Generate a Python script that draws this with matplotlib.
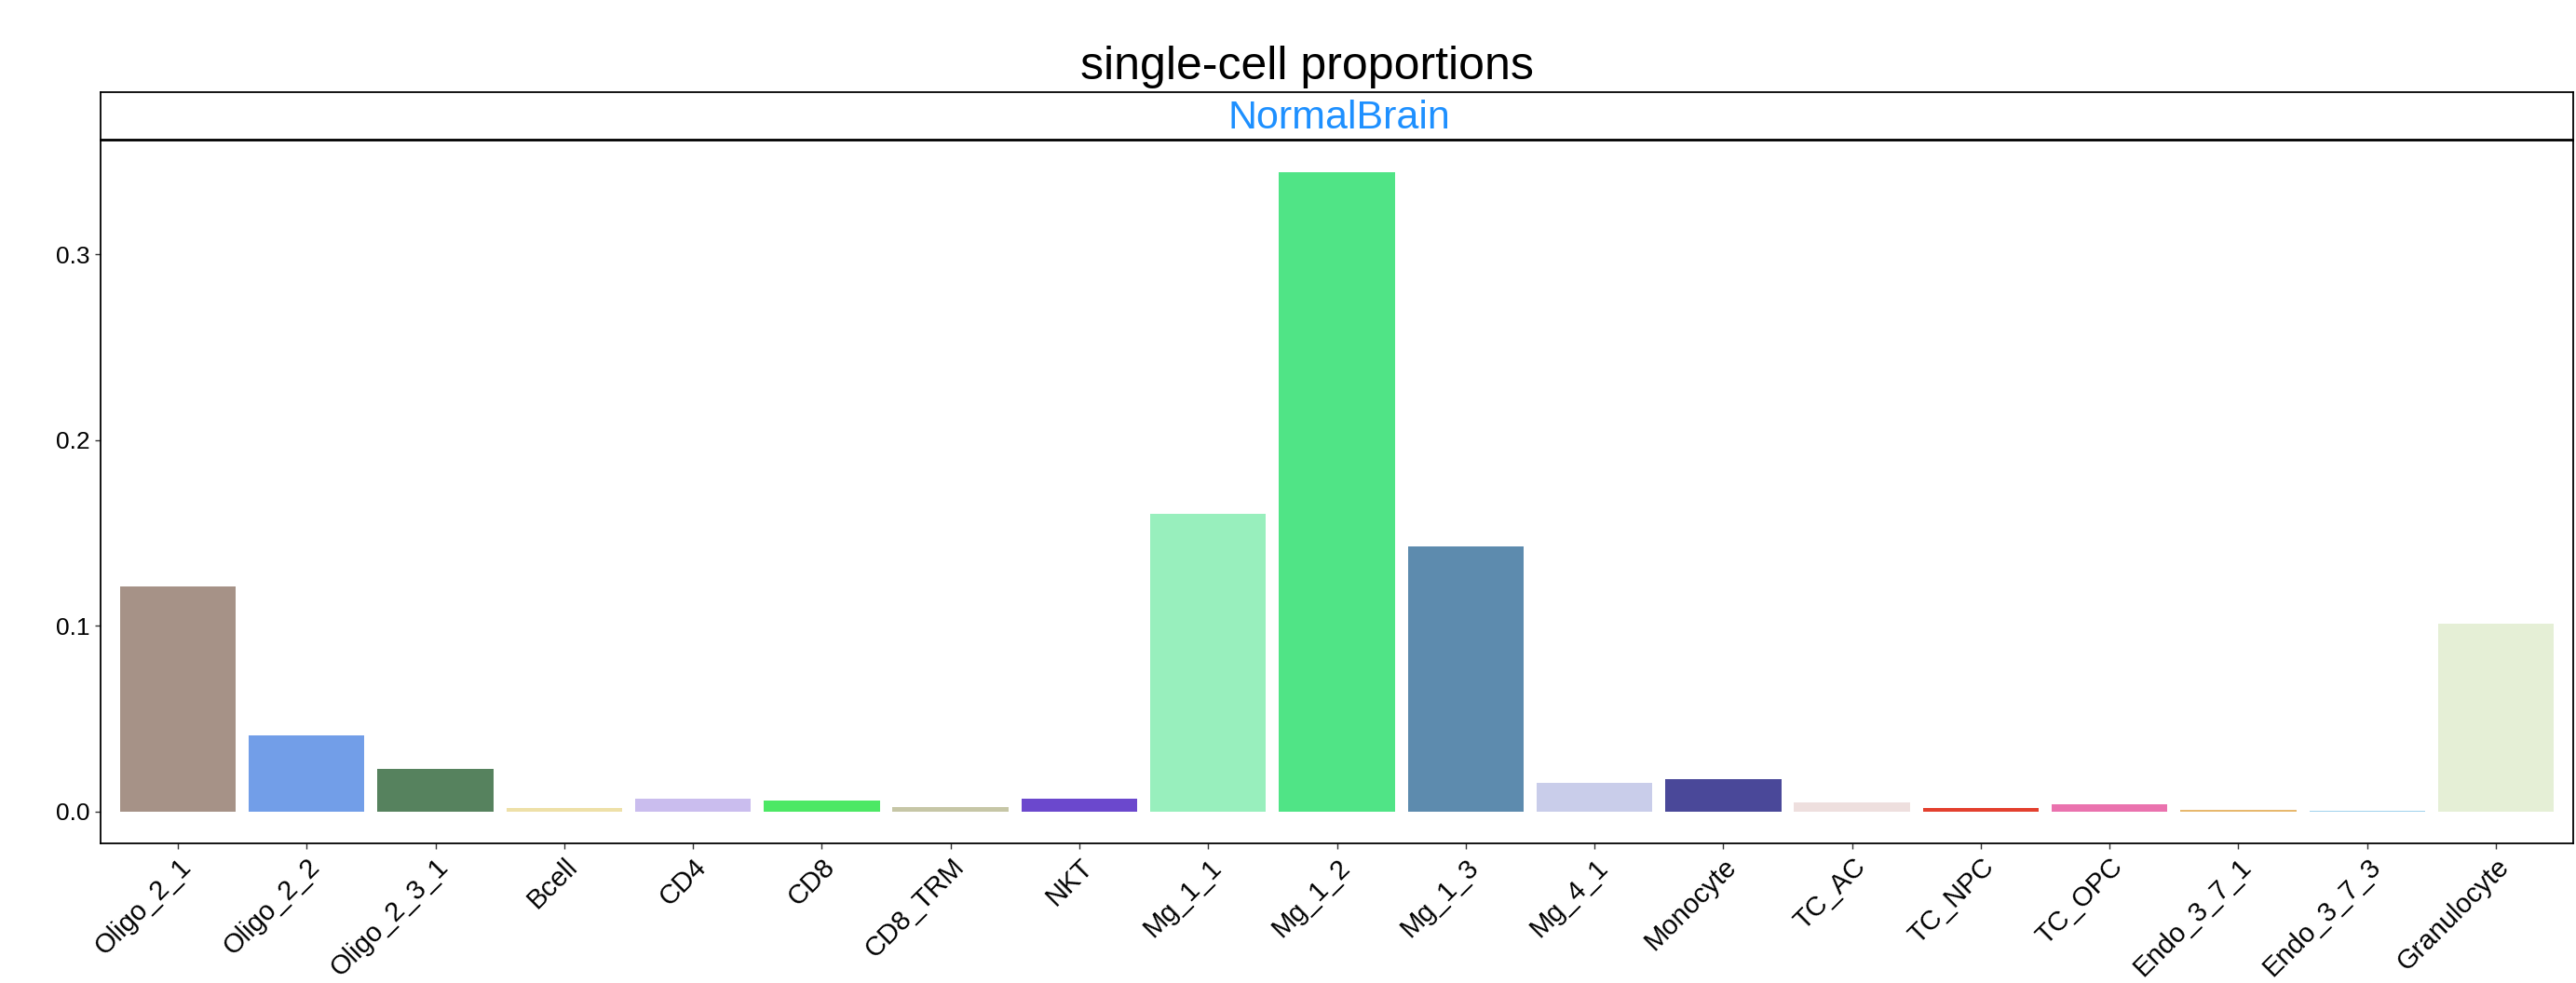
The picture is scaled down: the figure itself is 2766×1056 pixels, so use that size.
import matplotlib
matplotlib.use("Agg")
import matplotlib.pyplot as plt
import matplotlib.transforms as mtransforms
import numpy as np

plt.rcParams['font.family'] = ['Liberation Sans', 'DejaVu Sans']

# cell types, proportions and colours
cell_types = ["Oligo_2_1", "Oligo_2_2", "Oligo_2_3_1", "Bcell", "CD4", "CD8",
              "CD8_TRM", "NKT", "Mg_1_1", "Mg_1_2", "Mg_1_3", "Mg_4_1",
              "Monocyte", "TC_AC", "TC_NPC", "TC_OPC", "Endo_3_7_1",
              "Endo_3_7_3", "Granulocyte"]
proportions = [0.121, 0.0407, 0.023, 0.0017, 0.0070, 0.0059,
               0.0023, 0.0067, 0.160, 0.344, 0.1425, 0.0154,
               0.0176, 0.0048, 0.0017, 0.0040, 0.0008,
               0.0003, 0.101]
bar_colors = ["#A69287", "#729EE8", "#56825E", "#EEE0A8", "#CABDEE", "#4CE865",
              "#C6C6A6", "#6B48CD", "#98EFBD", "#50E486", "#5D8BAE", "#C9CDEA",
              "#4A4899", "#EEDFDE", "#E3402E", "#EA72AE", "#E7B86E",
              "#A0D2EC", "#E5EFD6"]
y_ticks = [0.0, 0.1, 0.2, 0.3]

W, H = 2766, 1056
fig = plt.figure(figsize=(W / 100, H / 100), dpi=100)

# panel
pl, pr, pt, pb = 108, 2763, 151, 906
ax = fig.add_axes([pl / W, 1 - pb / H, (pr - pl) / W, (pb - pt) / H])
x = np.arange(len(cell_types))
ax.bar(x, proportions, width=0.9, color=bar_colors)
ax.set_xlim(-0.6, len(cell_types) - 0.4)
top = max(proportions)
ax.set_ylim(-0.05 * top, top * 1.05)
ax.set_yticks(y_ticks)
ax.set_yticklabels([f"{t:.1f}" for t in y_ticks], fontsize=19)
ax.set_xticks(x)
ax.set_xticklabels(cell_types, rotation=45, ha='right', va='top',
                   rotation_mode='anchor', fontsize=21)
# nudge the rotated labels a little to the right, like the ggplot output
shift = mtransforms.ScaledTranslation(6 / 100, 0, fig.dpi_scale_trans)
for lab in ax.get_xticklabels():
    lab.set_transform(lab.get_transform() + shift)
ax.tick_params(axis='both', length=4, width=1, color='#333333', pad=4)
for sp in ax.spines.values():
    sp.set_linewidth(1.3)
    sp.set_color('black')

# facet strip
strip = fig.add_axes([pl / W, 1 - 150 / H, (pr - pl) / W, 51 / H])
strip.set_xticks([])
strip.set_yticks([])
for sp in strip.spines.values():
    sp.set_linewidth(1.3)
strip.text(1438 / W, 1 - 138 / H, "NormalBrain", color="#1E90FF", fontsize=31,
           ha='center', va='baseline', transform=fig.transFigure)

fig.text(1403 / W, 1 - 85 / H, "single-cell proportions",
         fontsize=36, ha='center', va='baseline')

fig.savefig("out.png", dpi=100)
